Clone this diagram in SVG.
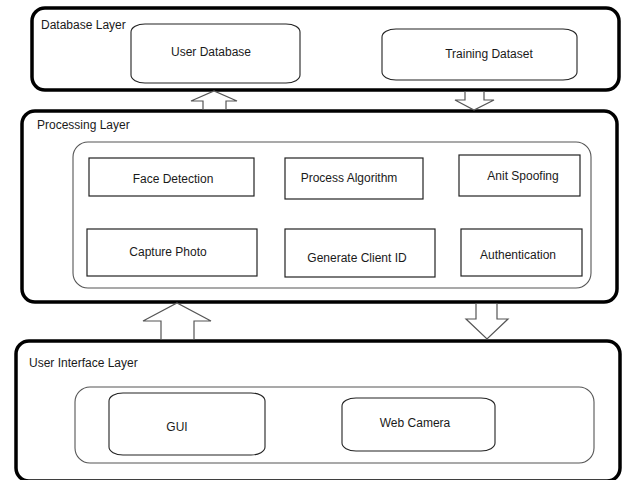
<svg xmlns="http://www.w3.org/2000/svg" width="622" height="480" viewBox="0 0 622 480">
<style>
  text { font-family: "Liberation Sans", Arial, sans-serif; font-size: 12px; fill: #1a1a1a; }
  .layer { fill: #fff; stroke: #000; stroke-width: 3.5; }
  .inner { fill: none; stroke: #555; stroke-width: 1.1; }
  .box { fill: #fff; stroke: #222; stroke-width: 1.2; }
  .tape { fill: #fff; stroke: #222; stroke-width: 1.1; }
  .arrow { fill: #fff; stroke: #555; stroke-width: 1.2; stroke-linejoin: miter; }
  .c { text-anchor: middle; }
</style>
<rect width="622" height="480" fill="#fff"/>

<g id="database-layer">
  <rect class="layer" x="32" y="8" width="587" height="82" rx="13"/>
  <text x="41" y="29">Database Layer</text>
</g>
<g id="user-database">
  <rect class="tape" x="131" y="24" width="169" height="59" rx="14" ry="8"/>
  <text class="c" x="211" y="56">User Database</text>
</g>
<g id="training-dataset">
  <rect class="tape" x="382" y="29" width="195" height="51" rx="14" ry="8"/>
  <text class="c" x="489" y="58">Training Dataset</text>
</g>

<g id="processing-layer">
  <rect class="layer" x="22" y="111" width="595" height="191" rx="13"/>
  <text x="37" y="129">Processing Layer</text>
  <rect class="inner" x="73" y="142" width="518" height="146" rx="15"/>
</g>
<g id="face-detection">
  <rect class="box" x="89" y="158" width="165" height="38"/>
  <text class="c" x="173" y="183">Face Detection</text>
</g>
<g id="process-algorithm">
  <rect class="box" x="285" y="158" width="138" height="41"/>
  <text class="c" x="349" y="182">Process Algorithm</text>
</g>
<g id="anti-spoofing">
  <rect class="box" x="459" y="155" width="121" height="41"/>
  <text class="c" x="523" y="180">Anit Spoofing</text>
</g>
<g id="capture-photo">
  <rect class="box" x="87" y="229" width="170" height="47"/>
  <text class="c" x="168" y="256">Capture Photo</text>
</g>
<g id="generate-client-id">
  <rect class="box" x="285" y="229" width="150" height="48"/>
  <text class="c" x="357" y="262">Generate Client ID</text>
</g>
<g id="authentication">
  <rect class="box" x="461" y="229" width="121" height="47"/>
  <text class="c" x="518" y="259">Authentication</text>
</g>

<g id="user-interface-layer">
  <rect class="layer" x="16" y="341" width="604" height="140" rx="13"/>
  <text x="29" y="367">User Interface Layer</text>
  <rect class="inner" x="75" y="387" width="519" height="76" rx="15"/>
</g>
<g id="gui">
  <rect class="tape" x="109" y="393" width="156" height="62" rx="14" ry="8"/>
  <text class="c" x="177" y="431">GUI</text>
</g>
<g id="web-camera">
  <rect class="tape" x="342" y="398" width="153" height="53" rx="14" ry="8"/>
  <text class="c" x="415" y="427">Web Camera</text>
</g>

<g id="connectors">
  <polygon class="arrow" points="203,109.5 203,101 191,101 214,91 237,101 226,101 226,109.5"/>
  <polygon class="arrow" points="465,91.5 465,100 455,100 474,110 494,100 484,100 484,91.5"/>
  <polygon class="arrow" points="161,339.5 161,321 143,321 177,303 211,321 194,321 194,339.5"/>
  <polygon class="arrow" points="476,303.5 476,319 466,319 487,339 508,319 497,319 497,303.5"/>
</g>
</svg>
